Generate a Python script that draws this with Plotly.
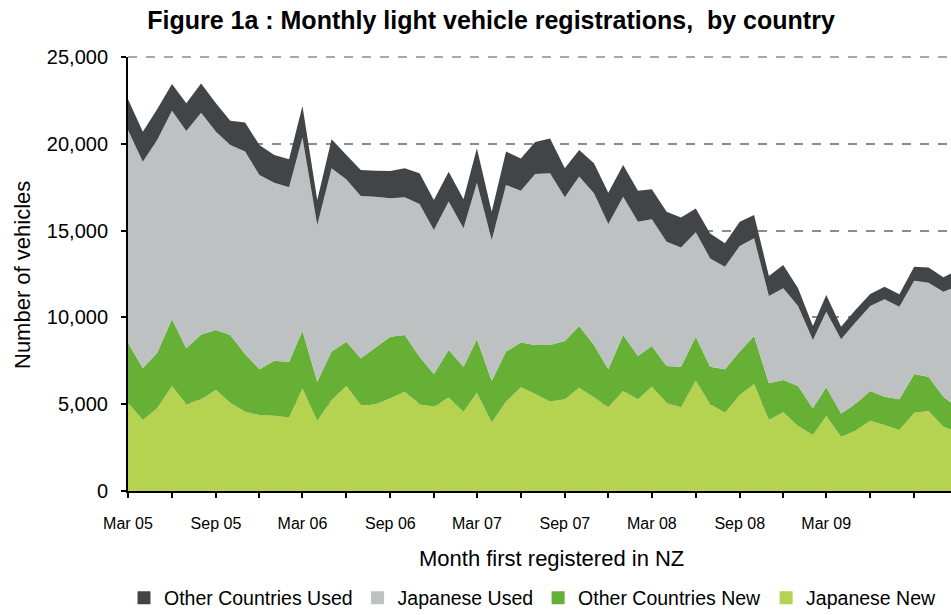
import pandas as pd
import plotly.graph_objects as go

# Monthly registrations, Mar 2005 .. Dec 2009
months = pd.date_range("2005-03-01", periods=58, freq="MS")

japanese_new = [
    5090, 4090, 4760, 6050, 4990, 5280, 5820, 5090, 4570, 4380, 4340, 4240,
    5910, 4050, 5240, 6050, 4950, 4990, 5340, 5720, 5010, 4860, 5380, 4570,
    5660, 3940, 5150, 5970, 5590, 5150, 5280, 5950, 5400, 4820, 5760, 5280,
    6010, 5090, 4820, 6350, 5010, 4510, 5530, 6160, 4090, 4530, 3740, 3230,
    4320, 3130, 3470, 4050, 3800, 3510, 4510, 4610, 3700, 3400,
]
other_new = [
    3450, 2980, 3210, 3840, 3230, 3740, 3450, 3900, 3320, 2630, 3170, 3190,
    3320, 2250, 2790, 2550, 2690, 3270, 3550, 3270, 2730, 1880, 2740, 2590,
    3080, 2410, 2880, 2590, 2820, 3260, 3360, 3550, 3010, 2190, 3230, 2500,
    2340, 2110, 2340, 2540, 2150, 2500, 2500, 2770, 2110, 1860, 2310, 1530,
    1650, 1340, 1540, 1710, 1630, 1770, 2230, 1970, 1730, 1400,
]
japanese_used = [
    12250, 11900, 12250, 12020, 12520, 12770, 11430, 10940, 11660, 11190, 10250, 10060,
    11140, 9020, 10560, 9350, 9350, 8690, 7970, 7930, 8790, 8290, 8550, 7970,
    9020, 8110, 9600, 8740, 9850, 9890, 8280, 8610, 8740, 8370, 7960, 7730,
    7300, 7160, 6860, 6010, 6240, 5910, 6080, 5630, 5030, 5290, 4610, 3940,
    4360, 4270, 4690, 4900, 5610, 5340, 5370, 5420, 6050, 7010,
]
other_used = [
    1770, 1730, 1770, 1530, 1590, 1690, 1630, 1400, 1670, 1730, 1590, 1620,
    1810, 1440, 1670, 1400, 1500, 1500, 1570, 1670, 1770, 1730, 1720, 1670,
    1980, 1630, 1920, 1860, 1840, 2000, 1670, 1530, 1730, 1800, 1830, 1790,
    1730, 1730, 1730, 1380, 1440, 1350, 1400, 1340, 1150, 1340, 1020, 800,
    960, 720, 730, 690, 730, 710, 810, 880, 830, 920,
]

tick_dates = pd.date_range("2005-03-01", "2009-03-01", freq="6MS")
tick_text = ["Mar 05", "Sep 05", "Mar 06", "Sep 06", "Mar 07",
             "Sep 07", "Mar 08", "Sep 08", "Mar 09"]

series = [
    ("Japanese New", japanese_new, "#b5d250"),
    ("Other Countries New", other_new, "#66b036"),
    ("Japanese Used", japanese_used, "#bec1c2"),
    ("Other Countries Used", other_used, "#414547"),
]

FONT = "Liberation Sans, Arial, sans-serif"
GRID = dict(color="#8c8c8c", dash="dash", width=1.5)

fig = go.Figure()

# stacked areas, bottom layer first
for name, vals, color in series:
    fig.add_trace(go.Scatter(
        x=months, y=vals, name=name,
        stackgroup="one", mode="none",
        fillcolor=color, showlegend=False,
        hoverinfo="x+y+name",
    ))

# legend swatches (small squares like the original)
for name, vals, color in reversed(series):
    fig.add_trace(go.Scatter(
        x=[None], y=[None], name=name, mode="markers",
        marker=dict(symbol="square", size=13, color=color),
    ))

fig.update_layout(
    width=951, height=615,
    paper_bgcolor="white", plot_bgcolor="white",
    margin=dict(l=128, r=0, t=57, b=124, autoexpand=False),
    font=dict(family=FONT, color="black"),
    title=dict(
        text="<b>Figure 1a : Monthly light vehicle registrations,  by country</b>",
        font=dict(size=25, family=FONT),
        x=491 / 951, xanchor="center", xref="container",
        y=1 - 20 / 615, yanchor="middle", yref="container",
    ),
    legend=dict(
        orientation="h", traceorder="normal",
        xref="container", yref="container",
        x=124 / 951, xanchor="left", y=1 - 598 / 615, yanchor="middle",
        font=dict(size=19.5), itemwidth=30, tracegroupgap=0,
    ),
    showlegend=True,
)

fig.update_xaxes(
    range=[months[0], pd.Timestamp("2009-11-17")],
    tickvals=tick_dates, ticktext=tick_text,
    tickfont=dict(size=16),
    ticks="outside", ticklen=5, tickcolor="black", tickwidth=1.5,
    ticklabelstandoff=12,
    minor=dict(ticks="outside", ticklen=5, tickcolor="black", tickwidth=1.5,
               dtick="M3", tick0="2005-03-01", showgrid=False),
    showline=True, linecolor="black", linewidth=2,
    showgrid=False, zeroline=False, fixedrange=True,
)
fig.update_yaxes(
    range=[0, 25000], dtick=5000, tickformat=",d",
    tickfont=dict(size=20),
    ticks="outside", ticklen=5, tickcolor="black", tickwidth=1.5,
    ticklabelstandoff=9,
    showline=True, linecolor="black", linewidth=2,
    showgrid=True, gridcolor=GRID["color"], griddash="dash", gridwidth=1.5,
    zeroline=False, fixedrange=True,
)

# top gridline (25,000) sits on the plot edge, plotly skips it
fig.add_shape(type="line", xref="paper", yref="paper",
              x0=0, x1=1, y0=1, y1=1, line=GRID, layer="below")

# axis titles
fig.add_annotation(
    text="Month first registered in NZ", showarrow=False,
    xref="paper", yref="paper", x=(551 - 128) / 823, y=-(558 - 491) / 434,
    xanchor="center", yanchor="middle", font=dict(size=22),
)
fig.add_annotation(
    text="Number of vehicles", showarrow=False, textangle=-90,
    xref="paper", yref="paper", x=-(128 - 22) / 823, y=(491 - 275) / 434,
    xanchor="center", yanchor="middle", font=dict(size=22),
)

# page body has a default 8px margin; drop it so the chart fills the window
fig.write_html(
    "out.html",
    config={"displayModeBar": False},
    post_script="document.body.style.margin='0';",
)
